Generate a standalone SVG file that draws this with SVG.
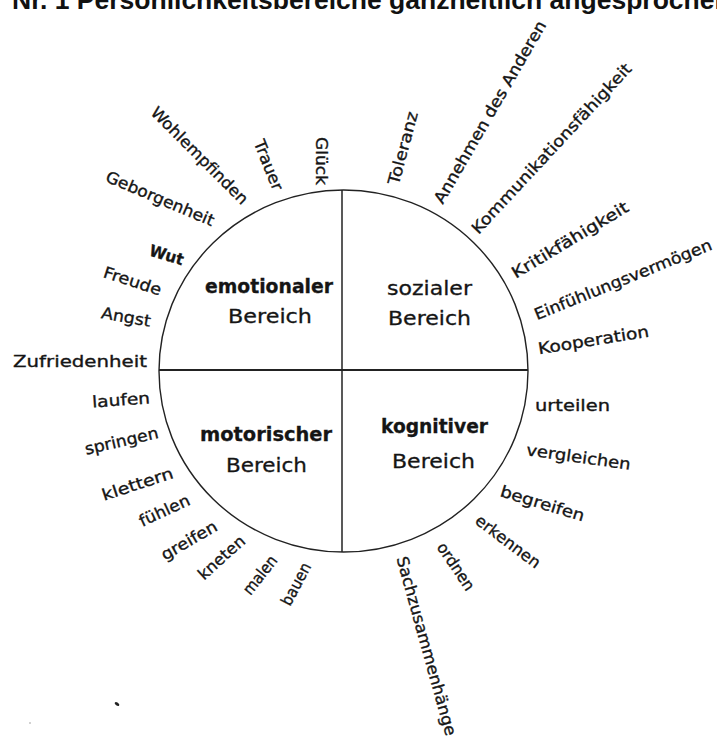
<svg xmlns="http://www.w3.org/2000/svg" width="717" height="738" viewBox="0 0 717 738">
<style>
.lbl{font-family:"DejaVu Sans","Liberation Sans",sans-serif;font-size:16px;fill:#151515;stroke:#151515;stroke-width:0.35;text-anchor:middle;dominant-baseline:central}
.q{font-family:"DejaVu Sans","Liberation Sans",sans-serif;font-size:19px;fill:#151515;stroke:#151515;stroke-width:0.3;text-anchor:middle}
.qb{font-weight:bold}
.title{font-family:"Liberation Sans",Arial,sans-serif;font-size:26.5px;font-weight:bold;fill:#111}
.ln{stroke:#222;fill:none}
</style>
<rect width="717" height="738" fill="#fff"/>
<text class="title" x="12" y="9">Nr. 1 Persönlichkeitsbereiche ganzheitlich angesprochen</text>
<g id="circle">
<ellipse class="ln" cx="343.5" cy="371" rx="184.5" ry="181" stroke-width="1.4"/>
<line class="ln" x1="159" y1="370" x2="528" y2="370" stroke-width="2"/>
<line class="ln" x1="342" y1="190" x2="342" y2="552" stroke-width="1.5"/>
</g>
<g id="q-emotional">
<text class="q qb" x="269" y="293" textLength="128" lengthAdjust="spacingAndGlyphs">emotionaler</text>
<text class="q" x="270" y="323" textLength="84" lengthAdjust="spacingAndGlyphs">Bereich</text>
</g>
<g id="q-sozial">
<text class="q" x="429.5" y="295" textLength="85" lengthAdjust="spacingAndGlyphs">sozialer</text>
<text class="q" x="429.5" y="325" textLength="83" lengthAdjust="spacingAndGlyphs">Bereich</text>
</g>
<g id="q-motorisch">
<text class="q qb" x="266" y="441" textLength="132" lengthAdjust="spacingAndGlyphs">motorischer</text>
<text class="q" x="266.5" y="472" textLength="81" lengthAdjust="spacingAndGlyphs">Bereich</text>
</g>
<g id="q-kognitiv">
<text class="q qb" x="434.5" y="433" textLength="107" lengthAdjust="spacingAndGlyphs">kognitiver</text>
<text class="q" x="433.5" y="468" textLength="83" lengthAdjust="spacingAndGlyphs">Bereich</text>
</g>
<g id="labels-emotional">
<g id="l-zufriedenheit"><text class="lbl" transform="translate(80,361)" textLength="134" lengthAdjust="spacingAndGlyphs">Zufriedenheit</text></g>
<g id="l-angst"><text class="lbl" transform="translate(126,317) rotate(10)" textLength="50" lengthAdjust="spacingAndGlyphs">Angst</text></g>
<g id="l-freude"><text class="lbl" transform="translate(132.5,281) rotate(18)" textLength="60" lengthAdjust="spacingAndGlyphs">Freude</text></g>
<g id="l-wut"><text class="lbl" transform="translate(166.5,255) rotate(17)" textLength="35" lengthAdjust="spacingAndGlyphs" font-weight="bold">Wut</text></g>
<g id="l-geborgenheit"><text class="lbl" transform="translate(160,198.5) rotate(23)" textLength="116" lengthAdjust="spacingAndGlyphs">Geborgenheit</text></g>
<g id="l-wohlempfinden"><text class="lbl" transform="translate(199.5,155.5) rotate(45)" textLength="130" lengthAdjust="spacingAndGlyphs">Wohlempfinden</text></g>
<g id="l-trauer"><text class="lbl" transform="translate(268.5,165) rotate(68)" textLength="53" lengthAdjust="spacingAndGlyphs">Trauer</text></g>
<g id="l-glueck"><text class="lbl" transform="translate(321,161) rotate(90)" textLength="48" lengthAdjust="spacingAndGlyphs">Glück</text></g>
</g>
<g id="labels-sozial">
<g id="l-toleranz"><text class="lbl" transform="translate(403,148) rotate(-75)" textLength="75" lengthAdjust="spacingAndGlyphs">Toleranz</text></g>
<g id="l-annehmen"><text class="lbl" transform="translate(490,112) rotate(-60)" textLength="208" lengthAdjust="spacingAndGlyphs">Annehmen des Anderen</text></g>
<g id="l-kommunikation"><text class="lbl" transform="translate(551.5,148.5) rotate(-47)" textLength="226" lengthAdjust="spacingAndGlyphs">Kommunikationsfähigkeit</text></g>
<g id="l-kritik"><text class="lbl" transform="translate(570,240) rotate(-31)" textLength="133" lengthAdjust="spacingAndGlyphs">Kritikfähigkeit</text></g>
<g id="l-einfuehlung"><text class="lbl" transform="translate(623,279.5) rotate(-22)" textLength="190" lengthAdjust="spacingAndGlyphs">Einfühlungsvermögen</text></g>
<g id="l-kooperation"><text class="lbl" transform="translate(593.5,340) rotate(-9)" textLength="112" lengthAdjust="spacingAndGlyphs">Kooperation</text></g>
</g>
<g id="labels-kognitiv">
<g id="l-urteilen"><text class="lbl" transform="translate(572.5,405)" textLength="75" lengthAdjust="spacingAndGlyphs">urteilen</text></g>
<g id="l-vergleichen"><text class="lbl" transform="translate(578.5,457) rotate(8)" textLength="105" lengthAdjust="spacingAndGlyphs">vergleichen</text></g>
<g id="l-begreifen"><text class="lbl" transform="translate(542.5,503.5) rotate(17)" textLength="87" lengthAdjust="spacingAndGlyphs">begreifen</text></g>
<g id="l-erkennen"><text class="lbl" transform="translate(508,541.5) rotate(37)" textLength="77" lengthAdjust="spacingAndGlyphs">erkennen</text></g>
<g id="l-ordnen"><text class="lbl" transform="translate(456,566.5) rotate(56)" textLength="54" lengthAdjust="spacingAndGlyphs">ordnen</text></g>
<g id="l-sachzusammenhaenge"><text class="lbl" transform="translate(426.5,646) rotate(74.5)" textLength="185" lengthAdjust="spacingAndGlyphs">Sachzusammenhänge</text></g>
</g>
<g id="labels-motorisch">
<g id="l-laufen"><text class="lbl" transform="translate(121,400) rotate(-4)" textLength="58" lengthAdjust="spacingAndGlyphs">laufen</text></g>
<g id="l-springen"><text class="lbl" transform="translate(121.5,441) rotate(-13)" textLength="75" lengthAdjust="spacingAndGlyphs">springen</text></g>
<g id="l-klettern"><text class="lbl" transform="translate(137.5,484) rotate(-18)" textLength="74" lengthAdjust="spacingAndGlyphs">klettern</text></g>
<g id="l-fuehlen"><text class="lbl" transform="translate(164.5,510.5) rotate(-25)" textLength="54" lengthAdjust="spacingAndGlyphs">fühlen</text></g>
<g id="l-greifen"><text class="lbl" transform="translate(189,540.5) rotate(-30)" textLength="62" lengthAdjust="spacingAndGlyphs">greifen</text></g>
<g id="l-kneten"><text class="lbl" transform="translate(221.5,557.5) rotate(-42)" textLength="57" lengthAdjust="spacingAndGlyphs">kneten</text></g>
<g id="l-malen"><text class="lbl" transform="translate(260,575) rotate(-52)" textLength="45" lengthAdjust="spacingAndGlyphs">malen</text></g>
<g id="l-bauen"><text class="lbl" transform="translate(296,584) rotate(-62)" textLength="46" lengthAdjust="spacingAndGlyphs">bauen</text></g>
</g>
<g id="specks">
<ellipse cx="117" cy="704" rx="2.6" ry="1.5" transform="rotate(35 117 704)" fill="#222"/>
<circle cx="30" cy="723" r="0.8" fill="#999"/>
</g>
</svg>
